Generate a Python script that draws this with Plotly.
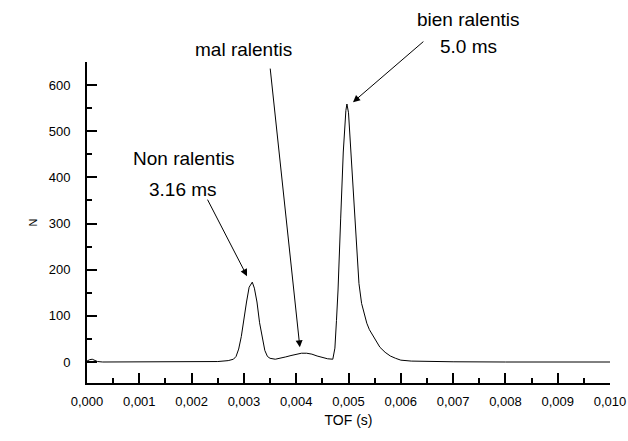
import plotly.graph_objects as go

tof = [0, 0.00005, 0.0001, 0.00015, 0.0002, 0.0003, 0.001, 0.002, 0.0025, 0.0027,
       0.0028, 0.00285, 0.0029, 0.00295, 0.0030, 0.00305, 0.0031, 0.00316, 0.0032,
       0.00325, 0.0033, 0.00335, 0.0034, 0.00345, 0.0035, 0.0036, 0.0037, 0.0038,
       0.0039, 0.0040, 0.0041, 0.0042, 0.0043, 0.0044, 0.0045, 0.0046, 0.0047,
       0.00474, 0.00477, 0.0048, 0.00485, 0.0049, 0.00495, 0.00497, 0.0050, 0.00503,
       0.00506, 0.00509, 0.00512, 0.00516, 0.0052, 0.00525, 0.0053, 0.00535, 0.0054,
       0.0055, 0.0056, 0.0057, 0.0058, 0.0059, 0.0060, 0.0062, 0.0065, 0.007, 0.008,
       0.009, 0.010]
counts = [2, 5, 6, 4, 1, 0, 0, 0, 1, 3,
          6, 12, 28, 55, 95, 130, 162, 173, 160,
          130, 85, 50, 25, 12, 8, 6, 8, 11,
          14, 17, 19, 19, 17, 13, 10, 7, 6,
          30, 90, 156, 310, 455, 545, 559, 540, 481,
          420, 372, 300, 228, 170, 127, 103, 84, 70,
          50, 32, 21, 13, 8, 4, 2, 1, 0.5, 0,
          0, 0]

x_tick_vals = [0.000, 0.001, 0.002, 0.003, 0.004, 0.005, 0.006, 0.007, 0.008, 0.009, 0.010]
x_tick_text = ["0,000", "0,001", "0,002", "0,003", "0,004", "0,005", "0,006", "0,007", "0,008", "0,009", "0,010"]
y_tick_vals = [0, 100, 200, 300, 400, 500, 600]
y_tick_text = ["0", "100", "200", "300", "400", "500", "600"]
y_range = [-45.5, 650]

# text lines: (text, x in data units, y in paper units)
label_lines = [("Non ralentis", 0.001836, 0.698), ("3.16 ms", 0.001836, 0.604),
               ("mal ralentis", 0.002983, 1.038), ("bien ralentis", 0.007285, 1.131),
               ("5.0 ms", 0.007285, 1.047)]
arrow_tips = [(0.00306, 186), (0.00407, 32), (0.005086, 563)]
arrow_tails = [(0.00229, 355), (0.0035, 639), (0.00646, 697)]

fig = go.Figure()
fig.add_trace(go.Scatter(x=tof, y=counts, mode="lines",
                         line=dict(color="black", width=1), showlegend=False))
# invisible copy on the label-only overlay axis so that its tick labels are drawn
fig.add_trace(go.Scatter(x=tof, y=counts, mode="lines", yaxis="y2", opacity=0,
                         line=dict(color="black", width=1), showlegend=False,
                         hoverinfo="skip"))

font = "Liberation Sans, Arial, sans-serif"
for lab, lx, ly in label_lines:
    fig.add_annotation(x=lx, y=ly, xref="x", yref="paper", text=lab, showarrow=False,
                       xanchor="center", yanchor="middle",
                       font=dict(family=font, size=19, color="black"), align="center")
for (hx, hy), (tx, ty) in zip(arrow_tips, arrow_tails):
    fig.add_annotation(x=hx, y=hy, ax=tx, ay=ty, xref="x", yref="y", axref="x", ayref="y",
                       text="", showarrow=True, arrowhead=2, arrowsize=1.4, arrowwidth=1,
                       arrowcolor="black")
# y-axis title
fig.add_annotation(x=-0.105, y=0.50, xref="paper", yref="paper", text="N", showarrow=False,
                   textangle=-90, xanchor="center", yanchor="middle",
                   font=dict(family=font, size=11, color="black"))

fig.update_layout(
    width=628, height=441,
    margin=dict(l=87, r=18, t=62, b=58),
    paper_bgcolor="white", plot_bgcolor="white",
    font=dict(family=font, size=13, color="black"),
    xaxis=dict(range=[0, 0.010], tickvals=x_tick_vals, ticktext=x_tick_text,
               automargin=False,
               showgrid=False, zeroline=False, showline=True, linecolor="black", linewidth=2,
               ticks="inside", ticklen=10, tickwidth=2, tickcolor="black",
               minor=dict(ticks="inside", ticklen=5, tickwidth=2, tickcolor="black", dtick=0.0005),
               ticklabelstandoff=5, tickfont=dict(size=13),
               title=dict(text="TOF (s)", font=dict(size=14), standoff=8)),
    yaxis=dict(range=y_range, tickvals=y_tick_vals, showticklabels=False,
               automargin=False,
               showgrid=False, zeroline=False, showline=True, linecolor="black", linewidth=2,
               ticks="inside", ticklen=10, tickwidth=2, tickcolor="black",
               minor=dict(ticks="inside", ticklen=5, tickwidth=2, tickcolor="black", dtick=50)),
    yaxis2=dict(range=y_range, overlaying="y", side="left", anchor="x",
                tickvals=y_tick_vals, ticktext=y_tick_text, automargin=False,
                showgrid=False, zeroline=False, showline=False,
                ticks="outside", ticklen=13, tickcolor="rgba(0,0,0,0)",
                tickfont=dict(size=13)),
)
fig.write_html("out.html", post_script="document.body.style.margin='0';",
               config={"displayModeBar": False})
